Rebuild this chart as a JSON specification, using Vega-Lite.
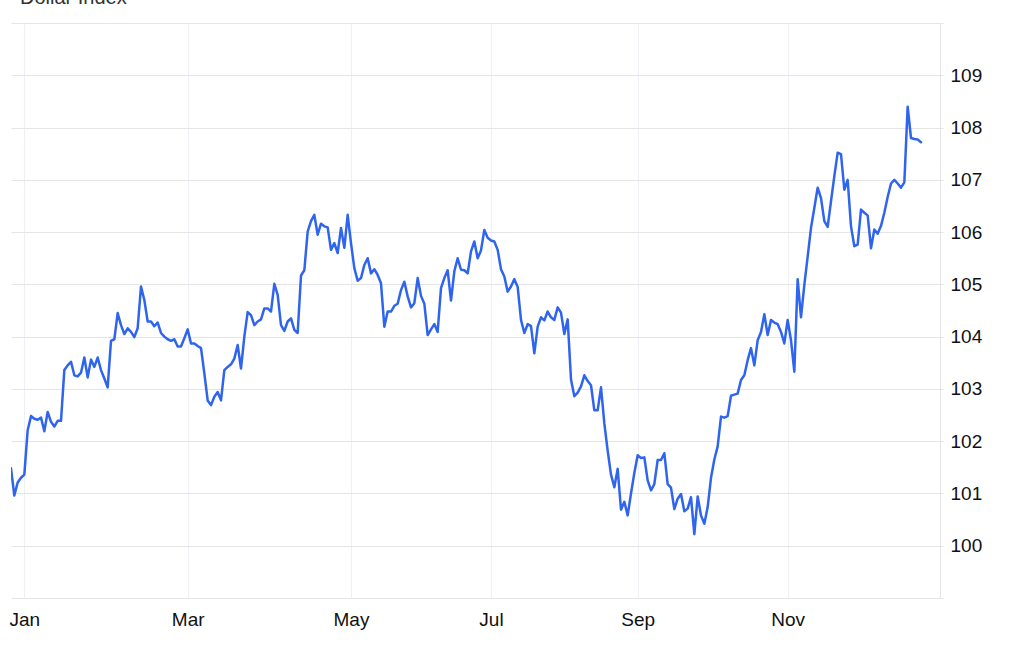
{
  "$schema": "https://vega.github.io/schema/vega-lite/v6.json",
  "width": 929,
  "height": 575,
  "autosize": {"type": "none"},
  "padding": {"left": 11, "top": 23, "right": 84, "bottom": 60},
  "background": "#ffffff",
  "title": {
    "text": "Dollar Index",
    "anchor": "start",
    "frame": "group",
    "baseline": "alphabetic",
    "offset": -1,
    "dx": 9,
    "font": "Liberation Sans",
    "fontSize": 20,
    "fontWeight": "normal",
    "color": "#333333"
  },
  "config": {
    "view": {"stroke": null},
    "axis": {"labelFont": "Liberation Sans", "labelFontSize": 19, "labelColor": "#111111", "title": null}
  },
  "data": {
    "values": [
      {"session": 0, "dxy": 101.48}, {"session": 1, "dxy": 100.96}, {"session": 2, "dxy": 101.21}, {"session": 3, "dxy": 101.30},
      {"session": 4, "dxy": 101.36}, {"session": 5, "dxy": 102.21}, {"session": 6, "dxy": 102.48}, {"session": 7, "dxy": 102.43},
      {"session": 8, "dxy": 102.41}, {"session": 9, "dxy": 102.45}, {"session": 10, "dxy": 102.19}, {"session": 11, "dxy": 102.56},
      {"session": 12, "dxy": 102.37}, {"session": 13, "dxy": 102.28}, {"session": 14, "dxy": 102.39}, {"session": 15, "dxy": 102.39},
      {"session": 16, "dxy": 103.36}, {"session": 17, "dxy": 103.45}, {"session": 18, "dxy": 103.52}, {"session": 19, "dxy": 103.26},
      {"session": 20, "dxy": 103.24}, {"session": 21, "dxy": 103.31}, {"session": 22, "dxy": 103.60}, {"session": 23, "dxy": 103.22},
      {"session": 24, "dxy": 103.56}, {"session": 25, "dxy": 103.42}, {"session": 26, "dxy": 103.60}, {"session": 27, "dxy": 103.36},
      {"session": 28, "dxy": 103.20}, {"session": 29, "dxy": 103.03}, {"session": 30, "dxy": 103.92}, {"session": 31, "dxy": 103.95},
      {"session": 32, "dxy": 104.45}, {"session": 33, "dxy": 104.22}, {"session": 34, "dxy": 104.05}, {"session": 35, "dxy": 104.16},
      {"session": 36, "dxy": 104.09}, {"session": 37, "dxy": 103.99}, {"session": 38, "dxy": 104.16}, {"session": 39, "dxy": 104.96},
      {"session": 40, "dxy": 104.70}, {"session": 41, "dxy": 104.29}, {"session": 42, "dxy": 104.29}, {"session": 43, "dxy": 104.20},
      {"session": 44, "dxy": 104.27}, {"session": 45, "dxy": 104.07}, {"session": 46, "dxy": 104.00}, {"session": 47, "dxy": 103.95},
      {"session": 48, "dxy": 103.92}, {"session": 49, "dxy": 103.95}, {"session": 50, "dxy": 103.81}, {"session": 51, "dxy": 103.81},
      {"session": 52, "dxy": 103.97}, {"session": 53, "dxy": 104.14}, {"session": 54, "dxy": 103.87}, {"session": 55, "dxy": 103.87},
      {"session": 56, "dxy": 103.82}, {"session": 57, "dxy": 103.78}, {"session": 58, "dxy": 103.30}, {"session": 59, "dxy": 102.78},
      {"session": 60, "dxy": 102.69}, {"session": 61, "dxy": 102.85}, {"session": 62, "dxy": 102.94}, {"session": 63, "dxy": 102.78},
      {"session": 64, "dxy": 103.36}, {"session": 65, "dxy": 103.42}, {"session": 66, "dxy": 103.47}, {"session": 67, "dxy": 103.58},
      {"session": 68, "dxy": 103.84}, {"session": 69, "dxy": 103.39}, {"session": 70, "dxy": 104.00}, {"session": 71, "dxy": 104.47},
      {"session": 72, "dxy": 104.41}, {"session": 73, "dxy": 104.22}, {"session": 74, "dxy": 104.29}, {"session": 75, "dxy": 104.33},
      {"session": 76, "dxy": 104.54}, {"session": 77, "dxy": 104.54}, {"session": 78, "dxy": 104.48}, {"session": 79, "dxy": 105.01},
      {"session": 80, "dxy": 104.80}, {"session": 81, "dxy": 104.22}, {"session": 82, "dxy": 104.11}, {"session": 83, "dxy": 104.29},
      {"session": 84, "dxy": 104.35}, {"session": 85, "dxy": 104.13}, {"session": 86, "dxy": 104.07}, {"session": 87, "dxy": 105.17},
      {"session": 88, "dxy": 105.27}, {"session": 89, "dxy": 106.01}, {"session": 90, "dxy": 106.21}, {"session": 91, "dxy": 106.33},
      {"session": 92, "dxy": 105.95}, {"session": 93, "dxy": 106.16}, {"session": 94, "dxy": 106.11}, {"session": 95, "dxy": 106.09},
      {"session": 96, "dxy": 105.66}, {"session": 97, "dxy": 105.79}, {"session": 98, "dxy": 105.60}, {"session": 99, "dxy": 106.08},
      {"session": 100, "dxy": 105.70}, {"session": 101, "dxy": 106.33}, {"session": 102, "dxy": 105.79}, {"session": 103, "dxy": 105.31},
      {"session": 104, "dxy": 105.07}, {"session": 105, "dxy": 105.12}, {"session": 106, "dxy": 105.37}, {"session": 107, "dxy": 105.50},
      {"session": 108, "dxy": 105.21}, {"session": 109, "dxy": 105.29}, {"session": 110, "dxy": 105.18}, {"session": 111, "dxy": 105.02},
      {"session": 112, "dxy": 104.19}, {"session": 113, "dxy": 104.48}, {"session": 114, "dxy": 104.48}, {"session": 115, "dxy": 104.59},
      {"session": 116, "dxy": 104.63}, {"session": 117, "dxy": 104.89}, {"session": 118, "dxy": 105.05}, {"session": 119, "dxy": 104.77},
      {"session": 120, "dxy": 104.56}, {"session": 121, "dxy": 104.64}, {"session": 122, "dxy": 105.12}, {"session": 123, "dxy": 104.78},
      {"session": 124, "dxy": 104.63}, {"session": 125, "dxy": 104.03}, {"session": 126, "dxy": 104.14}, {"session": 127, "dxy": 104.24},
      {"session": 128, "dxy": 104.09}, {"session": 129, "dxy": 104.93}, {"session": 130, "dxy": 105.12}, {"session": 131, "dxy": 105.27},
      {"session": 132, "dxy": 104.69}, {"session": 133, "dxy": 105.25}, {"session": 134, "dxy": 105.50}, {"session": 135, "dxy": 105.28},
      {"session": 136, "dxy": 105.27}, {"session": 137, "dxy": 105.21}, {"session": 138, "dxy": 105.63}, {"session": 139, "dxy": 105.82},
      {"session": 140, "dxy": 105.50}, {"session": 141, "dxy": 105.65}, {"session": 142, "dxy": 106.04}, {"session": 143, "dxy": 105.89},
      {"session": 144, "dxy": 105.84}, {"session": 145, "dxy": 105.82}, {"session": 146, "dxy": 105.66}, {"session": 147, "dxy": 105.29},
      {"session": 148, "dxy": 105.15}, {"session": 149, "dxy": 104.86}, {"session": 150, "dxy": 104.96}, {"session": 151, "dxy": 105.10},
      {"session": 152, "dxy": 104.95}, {"session": 153, "dxy": 104.32}, {"session": 154, "dxy": 104.07}, {"session": 155, "dxy": 104.24},
      {"session": 156, "dxy": 104.20}, {"session": 157, "dxy": 103.68}, {"session": 158, "dxy": 104.19}, {"session": 159, "dxy": 104.37},
      {"session": 160, "dxy": 104.31}, {"session": 161, "dxy": 104.48}, {"session": 162, "dxy": 104.37}, {"session": 163, "dxy": 104.32},
      {"session": 164, "dxy": 104.56}, {"session": 165, "dxy": 104.46}, {"session": 166, "dxy": 104.05}, {"session": 167, "dxy": 104.33},
      {"session": 168, "dxy": 103.18}, {"session": 169, "dxy": 102.86}, {"session": 170, "dxy": 102.93}, {"session": 171, "dxy": 103.05},
      {"session": 172, "dxy": 103.26}, {"session": 173, "dxy": 103.15}, {"session": 174, "dxy": 103.07}, {"session": 175, "dxy": 102.59},
      {"session": 176, "dxy": 102.59}, {"session": 177, "dxy": 103.03}, {"session": 178, "dxy": 102.34}, {"session": 179, "dxy": 101.82},
      {"session": 180, "dxy": 101.36}, {"session": 181, "dxy": 101.12}, {"session": 182, "dxy": 101.47}, {"session": 183, "dxy": 100.69},
      {"session": 184, "dxy": 100.84}, {"session": 185, "dxy": 100.58}, {"session": 186, "dxy": 101.00}, {"session": 187, "dxy": 101.39},
      {"session": 188, "dxy": 101.73}, {"session": 189, "dxy": 101.68}, {"session": 190, "dxy": 101.69}, {"session": 191, "dxy": 101.25},
      {"session": 192, "dxy": 101.06}, {"session": 193, "dxy": 101.18}, {"session": 194, "dxy": 101.64}, {"session": 195, "dxy": 101.64},
      {"session": 196, "dxy": 101.77}, {"session": 197, "dxy": 101.18}, {"session": 198, "dxy": 101.11}, {"session": 199, "dxy": 100.70},
      {"session": 200, "dxy": 100.90}, {"session": 201, "dxy": 100.99}, {"session": 202, "dxy": 100.66}, {"session": 203, "dxy": 100.71},
      {"session": 204, "dxy": 100.93}, {"session": 205, "dxy": 100.22}, {"session": 206, "dxy": 100.94}, {"session": 207, "dxy": 100.58},
      {"session": 208, "dxy": 100.42}, {"session": 209, "dxy": 100.74}, {"session": 210, "dxy": 101.30}, {"session": 211, "dxy": 101.65},
      {"session": 212, "dxy": 101.90}, {"session": 213, "dxy": 102.47}, {"session": 214, "dxy": 102.45}, {"session": 215, "dxy": 102.48},
      {"session": 216, "dxy": 102.87}, {"session": 217, "dxy": 102.89}, {"session": 218, "dxy": 102.91}, {"session": 219, "dxy": 103.17},
      {"session": 220, "dxy": 103.26}, {"session": 221, "dxy": 103.55}, {"session": 222, "dxy": 103.78}, {"session": 223, "dxy": 103.45},
      {"session": 224, "dxy": 103.93}, {"session": 225, "dxy": 104.09}, {"session": 226, "dxy": 104.43}, {"session": 227, "dxy": 104.03},
      {"session": 228, "dxy": 104.32}, {"session": 229, "dxy": 104.27}, {"session": 230, "dxy": 104.24}, {"session": 231, "dxy": 104.09},
      {"session": 232, "dxy": 103.87}, {"session": 233, "dxy": 104.32}, {"session": 234, "dxy": 103.93}, {"session": 235, "dxy": 103.33},
      {"session": 236, "dxy": 105.10}, {"session": 237, "dxy": 104.37}, {"session": 238, "dxy": 104.99}, {"session": 239, "dxy": 105.53},
      {"session": 240, "dxy": 106.08}, {"session": 241, "dxy": 106.46}, {"session": 242, "dxy": 106.85}, {"session": 243, "dxy": 106.65},
      {"session": 244, "dxy": 106.21}, {"session": 245, "dxy": 106.10}, {"session": 246, "dxy": 106.59}, {"session": 247, "dxy": 107.07},
      {"session": 248, "dxy": 107.52}, {"session": 249, "dxy": 107.49}, {"session": 250, "dxy": 106.81}, {"session": 251, "dxy": 107.00},
      {"session": 252, "dxy": 106.11}, {"session": 253, "dxy": 105.73}, {"session": 254, "dxy": 105.76}, {"session": 255, "dxy": 106.43},
      {"session": 256, "dxy": 106.37}, {"session": 257, "dxy": 106.32}, {"session": 258, "dxy": 105.69}, {"session": 259, "dxy": 106.05},
      {"session": 260, "dxy": 105.97}, {"session": 261, "dxy": 106.12}, {"session": 262, "dxy": 106.37}, {"session": 263, "dxy": 106.67},
      {"session": 264, "dxy": 106.93}, {"session": 265, "dxy": 107.00}, {"session": 266, "dxy": 106.93}, {"session": 267, "dxy": 106.85},
      {"session": 268, "dxy": 106.95}, {"session": 269, "dxy": 108.40}, {"session": 270, "dxy": 107.80}, {"session": 271, "dxy": 107.78},
      {"session": 272, "dxy": 107.77}, {"session": 273, "dxy": 107.72}
    ]
  },
  "mark": {"type": "line", "color": "#2f65ee", "strokeWidth": 2.5, "strokeJoin": "round", "strokeCap": "round", "clip": true},
  "encoding": {
    "x": {
      "field": "session",
      "type": "quantitative",
      "scale": {"domain": [0, 278.7], "nice": false, "zero": false},
      "axis": {
        "orient": "bottom",
        "values": [4, 53, 102, 144, 188, 233],
        "labelExpr": "datum.value == 4 ? 'Jan' : datum.value == 53 ? 'Mar' : datum.value == 102 ? 'May' : datum.value == 144 ? 'Jul' : datum.value == 188 ? 'Sep' : 'Nov'",
        "grid": true,
        "gridColor": "#edf0f4",
        "gridWidth": 1,
        "domain": false,
        "ticks": false,
        "labelPadding": 12,
        "labelAlign": "center",
        "labelFlush": false
      }
    },
    "y": {
      "field": "dxy",
      "type": "quantitative",
      "scale": {"domain": [99, 110], "nice": false, "zero": false},
      "axis": {
        "orient": "right",
        "values": [99, 100, 101, 102, 103, 104, 105, 106, 107, 108, 109, 110],
        "labelExpr": "datum.value < 100 || datum.value > 109 ? '' : datum.label",
        "grid": true,
        "gridColor": "#e5e5e5",
        "gridWidth": 1,
        "domain": true,
        "domainColor": "#e5e5e5",
        "ticks": true,
        "tickColor": "#e5e5e5",
        "tickSize": 3,
        "labelPadding": 7,
        "labelAlign": "left",
        "labelBaseline": "middle",
        "labelFlush": false
      }
    }
  }
}
